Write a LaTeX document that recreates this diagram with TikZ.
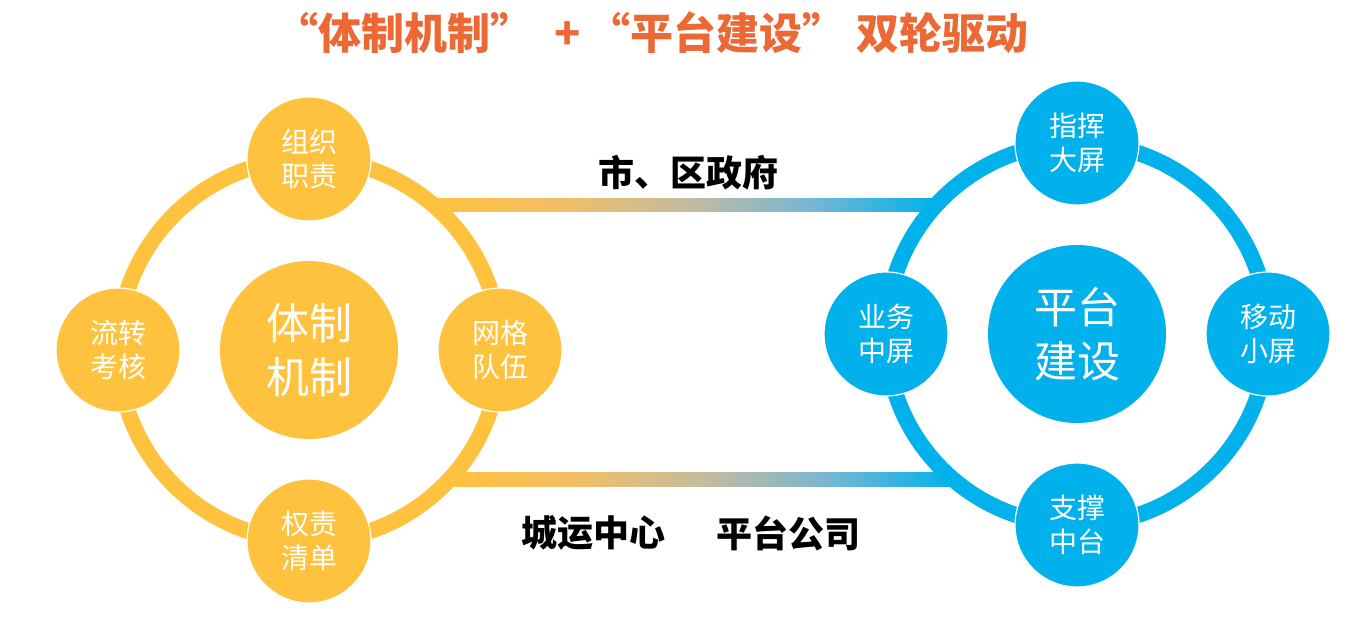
\documentclass[tikz,border=0pt]{standalone}
\usepackage{fontspec}
\setmainfont{Noto Sans CJK SC}
\definecolor{ylw}{RGB}{254,194,62}
\definecolor{blu}{RGB}{0,177,235}
\definecolor{ttl}{RGB}{236,104,52}
\pgfdeclarehorizontalshading{barshade}{100bp}{rgb(0bp)=(0.996,0.761,0.243); rgb(25bp)=(0.996,0.761,0.243);
	rgb(37.5bp)=(0.949,0.745,0.392); rgb(50bp)=(0.769,0.737,0.62); rgb(62.5bp)=(0.471,0.714,0.831);
	rgb(75bp)=(0,0.694,0.922); rgb(100bp)=(0,0.694,0.922)}
\begin{document}
\begin{tikzpicture}[x = 1pt, y = -1pt,
	dot/.style = {circle, fill = #1, draw = white, line width = 1.2pt, minimum size = 124pt, inner sep = 0pt,
		text = white, align = center, font = \fontsize{28}{34}\selectfont},
	hub/.style = {circle, fill = #1, minimum size = 178pt, inner sep = 0pt,
		text = white, align = center, font = \fontsize{43}{54}\selectfont},
	lbl/.style = {font = \fontsize{36}{40}\selectfont\bfseries}]
	\useasboundingbox (0,0) rectangle (1372,618);
	\fill[white] (0,0) rectangle (1372,618); %background
	\node[anchor = west, inner sep = 0pt, text = ttl, font = \fontsize{43}{50}\selectfont\bfseries] (title) at (275,33)
		{“体制机制”\hspace{21pt}+\hspace{7pt}“平台建设”\hspace{11pt}双轮驱动};
	\coordinate (gov-l) at (433,205); \coordinate (gov-r) at (936,205); %upper bar ends
	\coordinate (ops-l) at (450,479); \coordinate (ops-r) at (953,479); %lower bar ends
	\shade[shading = barshade] ([yshift = 6.5pt]gov-l) rectangle ([yshift = -6.5pt]gov-r);
	\shade[shading = barshade] ([yshift = 7pt]ops-l) rectangle ([yshift = -7pt]ops-r);
	\node[lbl] (gov) at (688,173) {市、区政府};
	\node[lbl] (csc) at (593,533) {城运中心};
	\node[lbl] (corp) at (788,533) {平台公司};
	% left wheel
	\node[hub = ylw] (tizhi) at (309,350) {体制\\机制};
	\draw[ylw, line width = 16pt] (tizhi.center) circle (191pt);
	\node[dot = ylw] (zuzhi) at (309,159) {组织\\职责};
	\node[dot = ylw] (liuzhuan) at (118,350) {流转\\考核};
	\node[dot = ylw] (wangge) at (500,350) {网格\\队伍};
	\node[dot = ylw] (quanze) at (309,541) {权责\\清单};
	% right wheel
	\node[hub = blu] (pingtai) at (1077,334) {平台\\建设};
	\draw[blu, line width = 16pt] (pingtai.center) circle (191pt);
	\node[dot = blu] (zhihui) at (1077,143) {指挥\\大屏};
	\node[dot = blu] (yewu) at (886,334) {业务\\中屏};
	\node[dot = blu] (yidong) at (1268,334) {移动\\小屏};
	\node[dot = blu] (zhicheng) at (1077,525) {支撑\\中台};
\end{tikzpicture}
\end{document}
